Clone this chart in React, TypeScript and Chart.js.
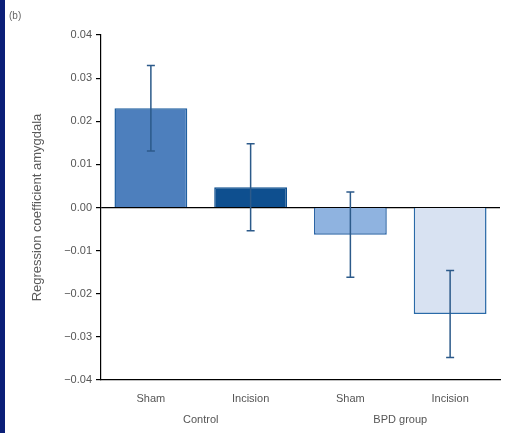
import React, { useEffect, useRef } from "react";
import { Chart, registerables } from "chart.js";

Chart.register(...registerables);

const categories = ["Sham", "Incision", "Sham", "Incision"];
const groups = ["Control", "BPD group"];
const values = [0.023, 0.0047, -0.0063, -0.0247];
const errors = [0.0099, 0.0101, 0.0099, 0.0101];
const fills = ["#4d7fbd", "#0e4f8f", "#8fb3e0", "#d8e2f2"];
const borders = ["#1f5fa0", "#0e4f8f", "#2a64a6", "#2a6aa8"];
const yMin = -0.04;
const yMax = 0.04;
const yStep = 0.01;

const FONT = "'Liberation Sans', Arial, sans-serif";

const extrasPlugin = {
  id: "extras",
  afterDatasetsDraw(chart: any) {
    const ctx = chart.ctx;
    const x = chart.scales.x;
    const y = chart.scales.y;
    ctx.save();
    // error bars
    ctx.strokeStyle = "#2c5a8a";
    ctx.lineWidth = 1.5;
    values.forEach((v, i) => {
      const px = x.getPixelForValue(i);
      const top = y.getPixelForValue(v + errors[i]);
      const bot = y.getPixelForValue(v - errors[i]);
      ctx.beginPath();
      ctx.moveTo(px, top);
      ctx.lineTo(px, bot);
      ctx.moveTo(px - 4, top);
      ctx.lineTo(px + 4, top);
      ctx.moveTo(px - 4, bot);
      ctx.lineTo(px + 4, bot);
      ctx.stroke();
    });
    // group labels
    ctx.fillStyle = "#555";
    ctx.font = "11px " + FONT;
    ctx.textAlign = "center";
    ctx.textBaseline = "middle";
    groups.forEach((g, gi) => {
      const cx = (x.getPixelForValue(gi * 2) + x.getPixelForValue(gi * 2 + 1)) / 2;
      ctx.fillText(g, cx, 420);
    });
    // panel label
    ctx.font = "10px " + FONT;
    ctx.textAlign = "left";
    ctx.fillStyle = "#666";
    ctx.fillText("(b)", 9, 16);
    ctx.restore();
  },
};

export default function App() {
  const ref = useRef<HTMLCanvasElement>(null);
  useEffect(() => {
    if (!ref.current) return;
    const chart = new Chart(ref.current, {
      type: "bar",
      data: {
        labels: categories,
        datasets: [
          {
            data: values,
            backgroundColor: fills,
            borderColor: borders,
            borderWidth: 1.5,
            barPercentage: 0.73,
            categoryPercentage: 1,
          },
        ],
      },
      options: {
        responsive: false,
        animation: false,
        events: [],
        layout: { padding: { left: 0, right: 20, top: 35, bottom: 0 } },
        plugins: { legend: { display: false }, tooltip: { enabled: false } },
        scales: {
          x: {
            grid: { display: false, drawTicks: false },
            border: { display: true, color: "#000", width: 1.2 },
            ticks: { color: "#555", font: { size: 11, family: FONT }, padding: 12 },
            afterFit: (s: any) => {
              s.height = 53;
            },
          },
          y: {
            min: yMin,
            max: yMax,
            ticks: {
              stepSize: yStep,
              color: "#555",
              font: { size: 11, family: FONT },
              padding: 4,
              callback: (v: any) => {
                const n = Number(v);
                const r = Math.round(n * 100) / 100;
                return r < 0 ? "\u2212" + Math.abs(r).toFixed(2) : r.toFixed(2);
              },
            },
            grid: {
              drawOnChartArea: true,
              color: (c: any) => (c.tick && Math.abs(c.tick.value) < 1e-9 ? "#000" : "rgba(0,0,0,0)"),
              lineWidth: 1.2,
              tickColor: "#000",
              tickLength: 5,
            },
            border: { display: true, color: "#000", width: 1.2 },
            title: {
              display: true,
              text: "Regression coefficient amygdala",
              color: "#5a5a5a",
              font: { size: 13, family: FONT },
              padding: { top: 30, bottom: 0 },
            },
            afterFit: (s: any) => {
              s.width = 101;
            },
          },
        },
      },
      plugins: [extrasPlugin],
    } as any);
    return () => chart.destroy();
  }, []);
  return (
    <div style={{ position: "fixed", left: 0, top: 0, width: 520, height: 433, background: "#fff" }}>
      <canvas ref={ref} width={520} height={433} style={{ display: "block" }} />
      <div style={{ position: "absolute", left: 0, top: 0, width: 5, height: 433, background: "#0b1f78" }} />
    </div>
  );
}
